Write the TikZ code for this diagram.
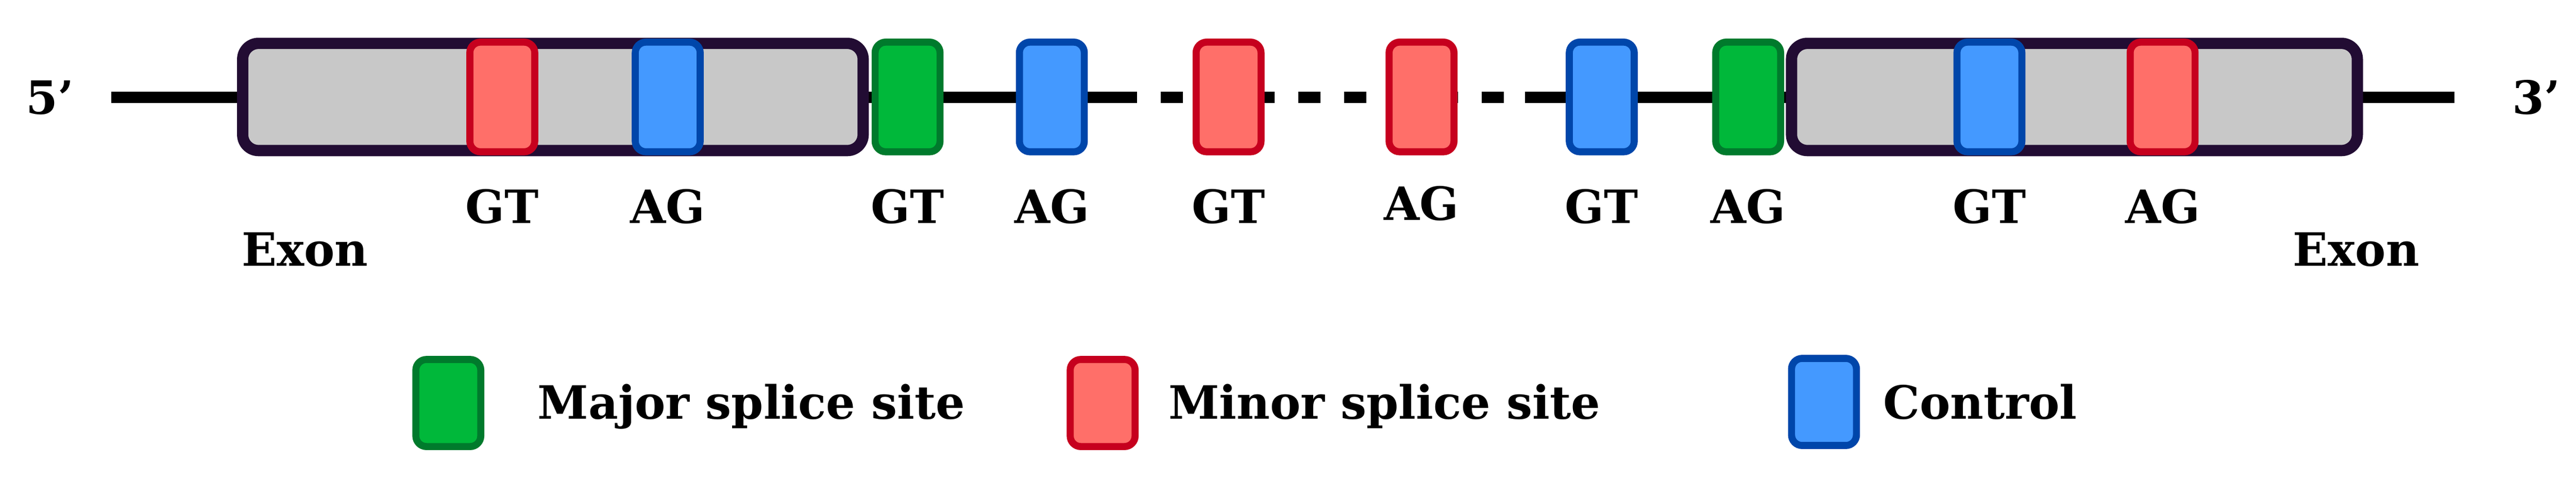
\documentclass[tikz,border=0pt]{standalone}
\usepackage{fontspec}
\setmainfont{DejaVu Serif}
\usepackage{tikz}

\definecolor{exonline}{HTML}{220C33}
\definecolor{exonfill}{HTML}{C8C8C8}
\definecolor{majorfill}{HTML}{00B83A}
\definecolor{majorline}{HTML}{007A2C}
\definecolor{minorfill}{HTML}{FF6F69}
\definecolor{minorline}{HTML}{C6001E}
\definecolor{ctrlfill}{HTML}{4499FF}
\definecolor{ctrlline}{HTML}{0046AA}

\begin{document}
\begin{tikzpicture}[x=1cm, y=1cm, font=\bfseries\fontsize{37}{44}\selectfont,
    exon/.style={draw=exonline, fill=exonfill, line width=0.32cm, rounded corners=0.45cm, minimum height=3.04cm},
    site/.style={draw=#1line, fill=#1fill, line width=0.2cm, rounded corners=0.3cm, minimum width=1.84cm, minimum height=3.11cm},
    legendbox/.style={site=#1, minimum height=2.47cm},
    backbone/.style={line width=0.33cm}]
  \useasboundingbox (0,0) rectangle (73.03,13.64);

  % backbone
  \coordinate (lineL) at (3.15,10.88);
  \coordinate (dashL) at (32.24,10.88);
  \coordinate (dashR) at (43.24,10.88);
  \coordinate (lineR) at (69.58,10.88);
  \draw[backbone] (lineL) -- (dashL);
  \draw[backbone, dash pattern=on 0.64cm off 0.66cm, dash phase=0.64cm] (dashL) -- (dashR);
  \draw[backbone] (dashR) -- (lineR);

  % exons
  \node[exon, minimum width=17.59cm] (exonL) at (15.675,10.89) {};
  \node[exon, minimum width=16.04cm] (exonR) at (58.81,10.89) {};

  % splice sites with their dinucleotides
  \foreach \n/\x/\c/\t/\ty in {s1/14.24/minor/GT/7.31, s2/18.93/ctrl/AG/7.31,
      s3/25.73/major/GT/7.31, s4/29.82/ctrl/AG/7.31, s5/34.83/minor/GT/7.31,
      s6/40.30/minor/AG/7.39, s7/45.41/ctrl/GT/7.31, s8/49.56/major/AG/7.31,
      s9/56.40/ctrl/GT/7.31, s10/61.31/minor/AG/7.31}{
    \node[site=\c] (\n) at (\x,10.89) {};
    \node[anchor=base] (\n lbl) at (\x,\ty) {\t};
  }

  % ends and exon labels
  \node[anchor=base] (five) at (1.41,10.40) {5’};
  \node[anchor=base] (three) at (71.90,10.40) {3’};
  \node[anchor=base] (exonLlbl) at (8.65,6.09) {Exon};
  \node[anchor=base] (exonRlbl) at (66.80,6.09) {Exon};

  % legend
  \node[legendbox=major] (kmajor) at (12.71,2.21) {};
  \node[legendbox=minor] (kminor) at (31.26,2.21) {};
  \node[legendbox=ctrl] (kctrl) at (51.71,2.24) {};
  \node[anchor=base west, inner sep=0pt] (tmajor) at (15.24,1.76) {Major splice site};
  \node[anchor=base west, inner sep=0pt] (tminor) at (33.12,1.76) {Minor splice site};
  \node[anchor=base west, inner sep=0pt] (tctrl) at (53.38,1.76) {Control};
\end{tikzpicture}
\end{document}
